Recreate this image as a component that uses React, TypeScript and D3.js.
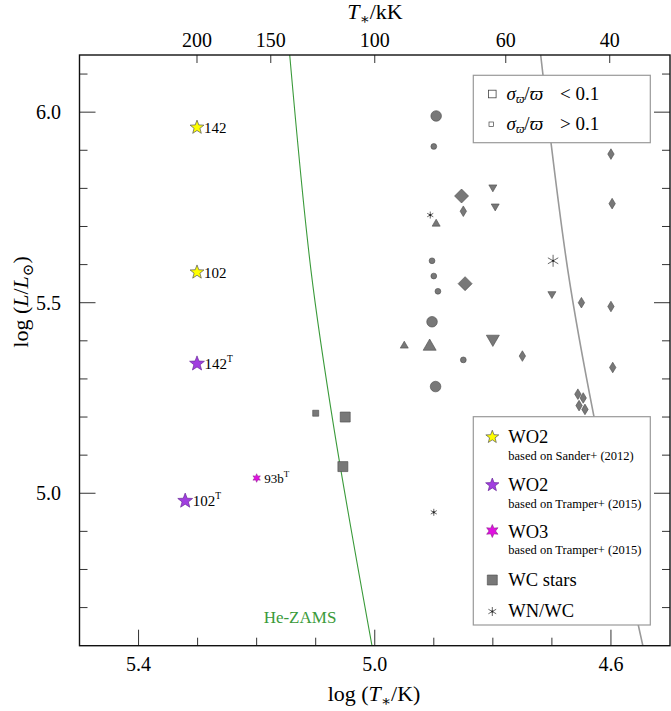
import React from "react";
import * as d3 from "d3";

// [log T*, log L] pairs
const wo2Sander = [[5.301, 5.96], [5.301, 5.58]];
const wo2SanderLabels = ["142", "102"];
const wo2Tramper = [[5.301, 5.34], [5.321, 4.98]];
const wo2TramperLabels = ["142", "102"];
const wo3Tramper = [[5.2, 5.04]];
const wo3TramperLabels = ["93b"];
const wcBig = [[5.05, 5.2], [5.054, 5.07]];
const wcSmall = [[5.1, 5.21]];
const wnwcBig = [[4.698, 5.61]];
const wnwcSmall = [[4.906, 5.73], [4.9, 4.95]];
const circBig = [[4.896, 5.99], [4.903, 5.45], [4.897, 5.28]];
const circSmall = [[4.9, 5.91], [4.903, 5.61], [4.9, 5.57], [4.893, 5.53], [4.85, 5.35]];
const triUpBig = [[4.907, 5.39]];
const triUpSmall = [[4.896, 5.71], [4.95, 5.39]];
const triDownBig = [[4.8, 5.4]];
const triDownSmall = [[4.8, 5.8], [4.796, 5.75], [4.7, 5.52]];
const diaBig = [[4.853, 5.78], [4.847, 5.55]];
const diaSmall = [
  [4.85, 5.74], [4.75, 5.36], [4.65, 5.5], [4.6, 5.89], [4.598, 5.76], [4.6, 5.49],
  [4.597, 5.33], [4.656, 5.26], [4.647, 5.25], [4.654, 5.23], [4.644, 5.22],
];
const heZams = [[5.144, 6.15], [5.108, 5.585], [5.0685, 5.165], [5.0047, 4.6]];
const grayTrack = [[4.719, 6.15], [4.673, 5.585], [4.629, 5.203], [4.546, 4.6]];
const topTicksKK = [200, 150, 100, 60, 40];
const xMajor = [5.4, 5.0, 4.6];
const yMajor = [5.0, 5.5, 6.0];

const left = 79.5, right = 670, top = 55, bottom = 645.7;
const x = d3.scaleLinear().domain([5.5, 4.5]).range([left, right]);
const y = d3.scaleLinear().domain([4.6, 6.15]).range([bottom, top]);

const FONT = "'Liberation Serif', 'DejaVu Serif', serif";
const GFILL = "#787878";
const GEDGE = "#4a4a4a";

function starPath(R: number, n: number, ratio: number) {
  const pts: [number, number][] = [];
  for (let k = 0; k < n * 2; k++) {
    const r = k % 2 === 0 ? R : R * ratio;
    const a = -Math.PI / 2 + (k * Math.PI) / n;
    pts.push([r * Math.cos(a), r * Math.sin(a)]);
  }
  return "M" + pts.map((p) => p.join(",")).join("L") + "Z";
}
function triPath(s: number, down: boolean) {
  const h = (s * Math.sqrt(3)) / 2;
  const d = down ? -1 : 1;
  return `M0,${(-h / 2) * d}L${s / 2},${(h / 2) * d}L${-s / 2},${(h / 2) * d}Z`;
}
function diaPath(w: number, h: number) {
  return `M0,${-h}L${w},0L0,${h}L${-w},0Z`;
}
function astPath(r: number) {
  const c = Math.cos(Math.PI / 6) * r, s = Math.sin(Math.PI / 6) * r;
  return `M0,${-r}L0,${r}M${-c},${-s}L${c},${s}M${-c},${s}L${c},${-s}`;
}

const Marker = ({ d, px, py, fill = GFILL, stroke = GEDGE, sw = 0.6 }: any) => (
  <path d={d} transform={`translate(${px},${py})`} fill={fill} stroke={stroke} strokeWidth={sw} />
);

const Asterisk = ({ r, px, py }: any) => (
  <g transform={`translate(${px},${py})`}>
    <path d={astPath(r)} stroke="#555" strokeWidth={0.9} fill="none" />
    <circle r={1.1} fill="#222" />
  </g>
);

export default function App() {
  const curve = d3
    .line<number[]>()
    .x((d) => x(d[0]))
    .y((d) => y(d[1]))
    .curve(d3.curveCatmullRom);

  const xMinor = d3.range(46, 55).map((v) => v / 10);
  const yMinor = d3.range(47, 62).map((v) => v / 10);

  return (
    <svg width={671} height={711} style={{ display: "block", position: "absolute", left: 0, top: 0, fontFamily: FONT }}>
      <rect width={671} height={711} fill="white" />
      <defs>
        <clipPath id="plotclip">
          <rect x={left} y={top} width={right - left} height={bottom - top} />
        </clipPath>
      </defs>

      {/* tracks */}
      <g clipPath="url(#plotclip)">
        <path d={curve(heZams) || ""} fill="none" stroke="#3a9a3a" strokeWidth={1.1} />
        <path d={curve(grayTrack) || ""} fill="none" stroke="#999" strokeWidth={1.6} />
      </g>
      <text x={300} y={623} textAnchor="middle" fontSize={17} fill="#3a9a3a">He-ZAMS</text>

      {/* ticks */}
      {xMinor.map((v) => {
        const big = xMajor.some((m) => Math.abs(m - v) < 1e-6);
        return <line key={"xb" + v} x1={x(v)} x2={x(v)} y1={bottom} y2={bottom - (big ? 16 : 8)} stroke="#333" strokeWidth={1} />;
      })}
      {yMinor.map((v) => {
        const big = yMajor.some((m) => Math.abs(m - v) < 1e-6);
        const len = big ? 16 : 8;
        return (
          <g key={"y" + v}>
            <line x1={left} x2={left + len} y1={y(v)} y2={y(v)} stroke="#333" strokeWidth={1} />
            <line x1={right} x2={right - len} y1={y(v)} y2={y(v)} stroke="#333" strokeWidth={1} />
          </g>
        );
      })}
      {topTicksKK.map((t) => {
        const px = x(Math.log10(t * 1000));
        return (
          <g key={"t" + t}>
            <line x1={px} x2={px} y1={top} y2={top + 8} stroke="#333" strokeWidth={1} />
            <text x={px} y={47} textAnchor="middle" fontSize={20}>{t}</text>
          </g>
        );
      })}
      {xMajor.map((v) => (
        <text key={"xl" + v} x={x(v)} y={671} textAnchor="middle" fontSize={20}>{v.toFixed(1)}</text>
      ))}
      {yMajor.map((v) => (
        <text key={"yl" + v} x={61} y={y(v) + 7} textAnchor="end" fontSize={20}>{v.toFixed(1)}</text>
      ))}

      {/* axis titles */}
      <text x={375} y={19} textAnchor="middle" fontSize={22}>
        <tspan fontStyle="italic">T</tspan>
        <tspan fontSize={15} dy={5}>∗</tspan>
        <tspan dy={-5}>/kK</tspan>
      </text>
      <text x={374} y={701} textAnchor="middle" fontSize={22}>
        log (<tspan fontStyle="italic">T</tspan>
        <tspan fontSize={15} dy={5}>∗</tspan>
        <tspan dy={-5}>/K)</tspan>
      </text>
      <text transform="translate(28,302) rotate(-90)" textAnchor="middle" fontSize={22}>
        log (<tspan fontStyle="italic">L</tspan>/<tspan fontStyle="italic">L</tspan>
        <tspan fontSize={15} dy={5}>⊙</tspan>
        <tspan dy={-5}>)</tspan>
      </text>

      {/* gray markers */}
      {circBig.map((p, i) => <Marker key={"cb" + i} d={d3.symbol(d3.symbolCircle, Math.PI * 5.3 * 5.3)()} px={x(p[0])} py={y(p[1])} />)}
      {circSmall.map((p, i) => <Marker key={"cs" + i} d={d3.symbol(d3.symbolCircle, Math.PI * 2.9 * 2.9)()} px={x(p[0])} py={y(p[1])} />)}
      {triUpBig.map((p, i) => <Marker key={"tub" + i} d={triPath(13, false)} px={x(p[0])} py={y(p[1])} />)}
      {triUpSmall.map((p, i) => <Marker key={"tus" + i} d={triPath(8, false)} px={x(p[0])} py={y(p[1])} />)}
      {triDownBig.map((p, i) => <Marker key={"tdb" + i} d={triPath(13, true)} px={x(p[0])} py={y(p[1])} />)}
      {triDownSmall.map((p, i) => <Marker key={"tds" + i} d={triPath(8, true)} px={x(p[0])} py={y(p[1])} />)}
      {diaBig.map((p, i) => <Marker key={"db" + i} d={diaPath(7, 7)} px={x(p[0])} py={y(p[1])} />)}
      {diaSmall.map((p, i) => <Marker key={"ds" + i} d={diaPath(3.2, 5.3)} px={x(p[0])} py={y(p[1])} />)}
      {wcBig.map((p, i) => <Marker key={"wb" + i} d="M-5,-5H5V5H-5Z" px={x(p[0])} py={y(p[1])} />)}
      {wcSmall.map((p, i) => <Marker key={"ws" + i} d="M-3,-3H3V3H-3Z" px={x(p[0])} py={y(p[1])} />)}
      {wnwcBig.map((p, i) => <Asterisk key={"ab" + i} r={6} px={x(p[0])} py={y(p[1])} />)}
      {wnwcSmall.map((p, i) => <Asterisk key={"as" + i} r={3.5} px={x(p[0])} py={y(p[1])} />)}

      {/* WO stars */}
      {wo2Sander.map((p, i) => (
        <g key={"ys" + i}>
          <Marker d={starPath(7.3, 5, 0.42)} px={x(p[0])} py={y(p[1])} fill="#ffff00" stroke="#555" sw={0.7} />
          <text x={x(p[0]) + 7} y={y(p[1]) + 5.5} fontSize={15}>{wo2SanderLabels[i]}</text>
        </g>
      ))}
      {wo2Tramper.map((p, i) => (
        <g key={"ps" + i}>
          <Marker d={starPath(7.8, 5, 0.42)} px={x(p[0])} py={y(p[1])} fill="#a13ee0" stroke="#6a2a9a" sw={0.7} />
          <text x={x(p[0]) + 7.5} y={y(p[1]) + 5.5} fontSize={15}>
            {wo2TramperLabels[i]}
            <tspan fontSize={9.5} dy={-7}>T</tspan>
          </text>
        </g>
      ))}
      {wo3Tramper.map((p, i) => (
        <g key={"ms" + i}>
          <Marker d={starPath(4.3, 6, 0.5)} px={x(p[0])} py={y(p[1])} fill="#e010e0" stroke="#8a1a8a" sw={0.5} />
          <text x={x(p[0]) + 7.5} y={y(p[1]) + 4.5} fontSize={13}>
            {wo3TramperLabels[i]}
            <tspan fontSize={9} dy={-6}>T</tspan>
          </text>
        </g>
      ))}

      {/* frame */}
      <rect x={left} y={top} width={right - left} height={bottom - top} fill="none" stroke="#111" strokeWidth={1.4} />

      {/* parallax legend */}
      <rect x={473.3} y={75.3} width={177} height={67.4} fill="white" stroke="#999" strokeWidth={1.2} />
      <rect x={488.5} y={90.2} width={7.6} height={7.6} fill="white" stroke="#444" strokeWidth={0.8} />
      <rect x={489} y={122} width={4.6} height={4.6} fill="white" stroke="#444" strokeWidth={0.7} />
      {[99.5, 129.5].map((by, i) => (
        <g key={"pl" + i}>
          <text x={506.5} y={by} fontSize={19}>
            <tspan fontStyle="italic">σ</tspan>
            <tspan fontSize={12} dy={3} fontStyle="italic">ϖ</tspan>
            <tspan dy={-3}>/</tspan>
            <tspan fontStyle="italic">ϖ</tspan>
          </text>
          <text x={560} y={by} fontSize={19}>{i === 0 ? "< 0.1" : "> 0.1"}</text>
        </g>
      ))}

      {/* type legend */}
      <rect x={473.3} y={416.7} width={177} height={208.3} fill="white" stroke="#999" strokeWidth={1.2} />
      <Marker d={starPath(6.8, 5, 0.42)} px={492.3} py={437} fill="#ffff00" stroke="#555" sw={0.7} />
      <text x={508.3} y={443.3} fontSize={18.5}>WO2</text>
      <text x={508.3} y={460} fontSize={12.5}>based on Sander+ (2012)</text>
      <Marker d={starPath(7, 5, 0.42)} px={492.3} py={485} fill="#a13ee0" stroke="#6a2a9a" sw={0.7} />
      <text x={508.3} y={490.7} fontSize={18.5}>WO2</text>
      <text x={508.3} y={507.7} fontSize={12.5}>based on Tramper+ (2015)</text>
      <Marker d={starPath(6.5, 6, 0.5)} px={492.3} py={531} fill="#e010e0" stroke="#8a1a8a" sw={0.6} />
      <text x={508.3} y={537.7} fontSize={18.5}>WO3</text>
      <text x={508.3} y={554.3} fontSize={12.5}>based on Tramper+ (2015)</text>
      <Marker d="M-5,-5H5V5H-5Z" px={492.3} py={580} />
      <text x={508.3} y={585.5} fontSize={18.5}>WC stars</text>
      <Asterisk r={4.5} px={492.3} py={611.5} />
      <text x={508.3} y={617} fontSize={18.5}>WN/WC</text>
    </svg>
  );
}
